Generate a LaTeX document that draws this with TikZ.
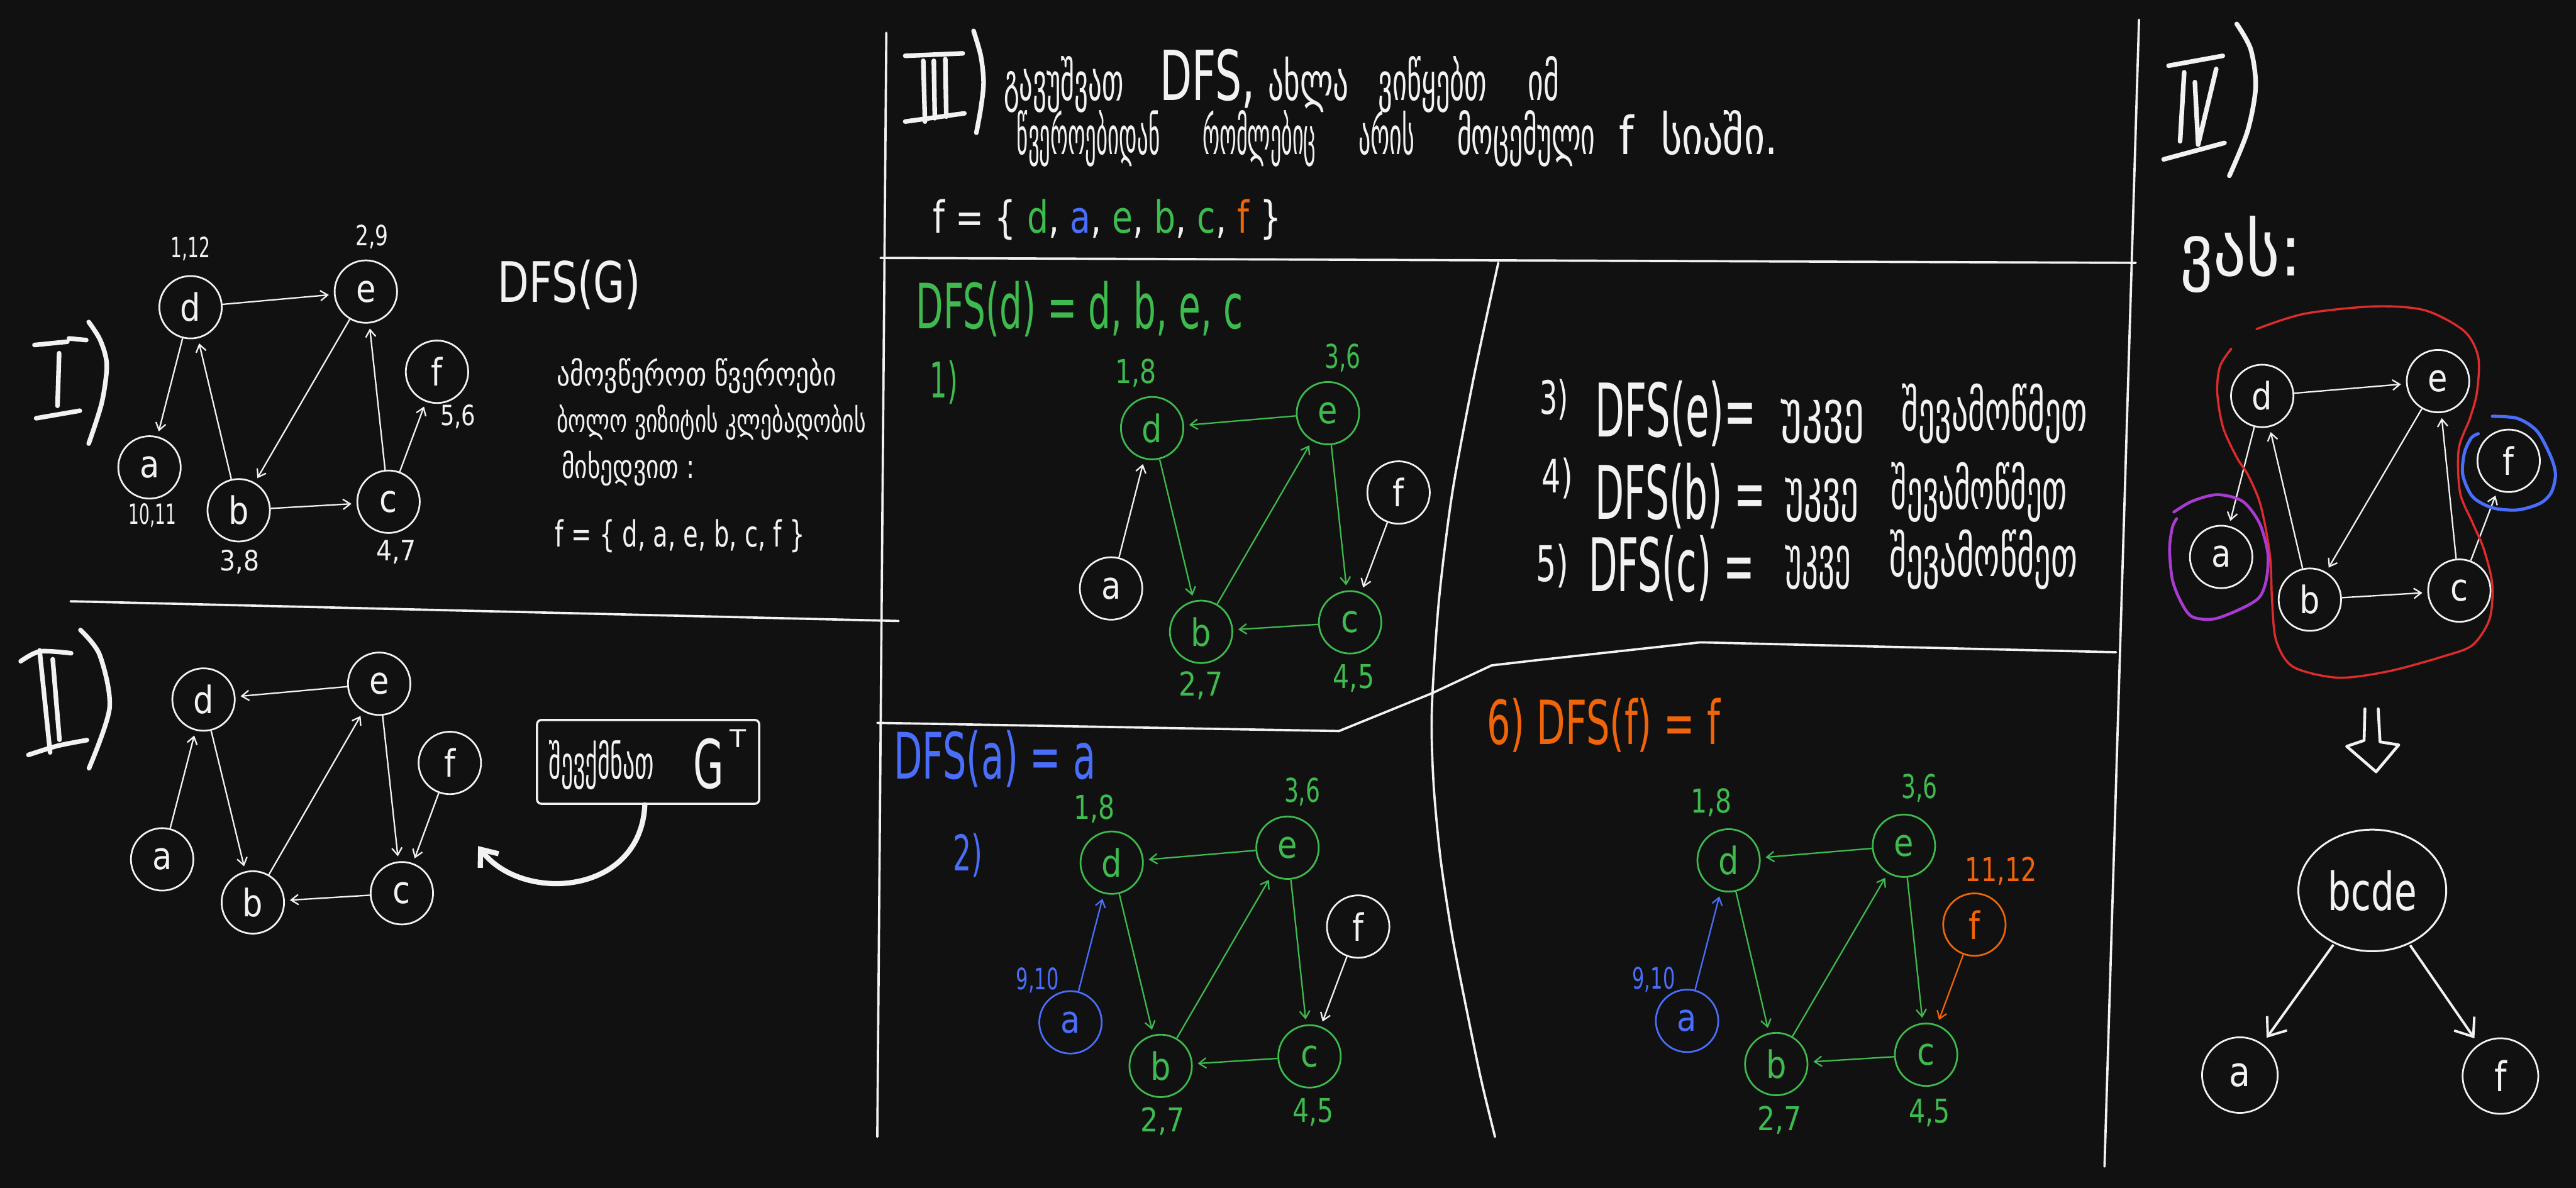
\documentclass[tikz,border=0pt]{standalone}
\usepackage{fontspec}
\setmainfont{DejaVu Sans}
\usetikzlibrary{arrows.meta,shapes.geometric}
\definecolor{bgc}{HTML}{111111}
\definecolor{wh}{HTML}{F2F2F2}
\definecolor{gr}{RGB}{62,186,78}
\definecolor{bl}{RGB}{74,110,250}
\definecolor{orng}{RGB}{240,100,10}
\definecolor{rd}{RGB}{222,44,44}
\definecolor{pu}{RGB}{168,60,208}
\newlength\hwlen
\newcommand\fs[1]{\fontsize{\fpeval{#1*1.138}pt}{\fpeval{#1*1.4}pt}\selectfont}
\newcommand\fitw[2]{\settowidth{\hwlen}{#2}\scalebox{\fpeval{#1*1.138/\hwlen}}[1]{#2}}
\newcommand\nl[1]{\scalebox{0.85}[1]{#1}}
% color, name, position, em(px), width(px), text  -- anchored base west
\newcommand\T[6]{\node[txt,text=#1] (#2) at (#3) {\fs{#4}\fitw{#5}{#6}};}
% centered label
\newcommand\Lb[6]{\node[txt,anchor=center,text=#1] (#2) at (#3) {\fs{#4}\fitw{#5}{#6}};}
\tikzset{
  txt/.style={inner sep=0pt, outer sep=0pt, anchor=base west},
  vx/.style={circle, draw, line width=1.2pt, minimum size=38*1.138pt, inner sep=0pt, font=\fs{23}},
  vw/.style={vx, draw=wh, text=wh},
  vg/.style={vx, draw=gr, text=gr},
  vb/.style={vx, draw=bl, text=bl},
  vo/.style={vx, draw=orng, text=orng},
  ed/.style={-{Straight Barb[length=5pt,width=7pt]}, line width=1pt, shorten >=3.5pt},
  thk/.style={-{Straight Barb[length=11pt,width=17pt]}, line width=1.7pt, shorten >=5pt, shorten <=1pt, wh},
  dline/.style={wh, line width=1.6pt, line cap=round},
  num/.style={wh, line width=3.2pt, line cap=round, line join=round},
}
\begin{document}
\begin{tikzpicture}[x=0.04cm,y=-0.04cm]
\fill[bgc] (0,0) rectangle (1568,723);
\useasboundingbox (0,0) rectangle (1568,723);

% ---------- dividers ----------
\draw[dline] (539.5,20) -- (534,692);
\draw[dline] (1302,12) -- (1281,710);
\draw[dline] (43,366) -- (547,378);
\draw[dline] (536,157) -- (1300,160);
\draw[dline] plot[smooth] coordinates {(912,160) (897,230) (884,300) (876,364) (872,421) (871.5,450) (873,483) (877,524) (884,570) (893,616) (901.5,657) (910,692)};
\draw[dline] (534,440) -- (815,445) -- (871.6,422) -- (908,405) -- (936,401.8) -- (1035,391) -- (1288,397);

% ---------- roman numerals ----------
\draw[num] (21,210) -- (41,208);
\draw[num] (42,206) -- (52.5,207);
\draw[num] (36,215) -- (35,247);
\draw[num] (22,254.6) -- (48.6,250);
\draw[num] plot[smooth] coordinates {(54,196) (61,207) (65,222) (62,245) (54,270)};

\draw[num] plot[smooth] coordinates {(12.6,402.5) (24.3,396.5) (43.3,397.6)};
\draw[num] (24.1,395.9) -- (30.5,458);
\draw[num] (32.1,401.3) -- (36.2,450.3);
\draw[num] plot[smooth] coordinates {(17.3,459.5) (35,454) (52.9,450.5)};
\draw[num] plot[smooth] coordinates {(49,383.5) (60.7,398.7) (66.7,430.8) (54.2,467.6)};

\draw[num] (551,34) -- (586,32.5);
\draw[num] (562,37) -- (563,74);
\draw[num] (568.4,37) -- (569,72);
\draw[num] (575.4,36) -- (576,71);
\draw[num] (551,74) -- (587,69);
\draw[num] plot[smooth] coordinates {(592.6,18.8) (597,34) (598.7,50.2) (597,66) (594.3,80.8)};

\draw[num] (1320,40) -- (1353,34);
\draw[num] (1329.5,44) -- (1327,86);
\draw[num] (1336,50) -- (1338,88) -- (1349,42);
\draw[num] (1317,97) -- (1354,87);
\draw[num] plot[smooth] coordinates {(1361.5,14.6) (1370,30) (1373,53) (1368,80) (1357,107)};

% ---------- Section I ----------
\node[vw] (Id) at (116,187) {\nl{d}};
\node[vw] (Ie) at (222.7,177.5) {\nl{e}};
\node[vw] (If) at (266,226.3) {\nl{f}};
\node[vw] (Ia) at (91,284.5) {\nl{a}};
\node[vw] (Ib) at (145.3,310.6) {\nl{b}};
\node[vw] (Ic) at (236.5,305.4) {\nl{c}};
\draw[ed,wh] (Id) -- (Ie);
\draw[ed,wh] (Id) -- (Ia);
\draw[ed,wh] (Ib) -- (Id);
\draw[ed,wh] (Ie) -- (Ib);
\draw[ed,wh] (Ib) -- (Ic);
\draw[ed,wh] (Ic) -- (Ie);
\draw[ed,wh] (Ic) -- (If);
\Lb{wh}{l1}{116,151.6}{17}{24}{1,12}
\Lb{wh}{l2}{226.5,144.2}{17}{20}{2,9}
\Lb{wh}{l3}{278.8,253.6}{17}{21.5}{5,6}
\Lb{wh}{l4}{92.9,313.6}{17}{29}{10,11}
\Lb{wh}{l5}{145.9,341.9}{17}{24}{3,8}
\Lb{wh}{l6}{241.2,336}{17}{24}{4,7}
\T{wh}{t1}{303,184}{34}{87}{DFS(G)}
\T{wh}{t2}{339,235}{20}{170}{ამოვწეროთ წვეროები}
\T{wh}{t3}{339,263}{20}{188}{ბოლო ვიზიტის კლებადობის}
\T{wh}{t4}{342,291}{20}{81}{მიხედვით :}
\T{wh}{t5}{338,333}{22}{152}{f = \{ d, a, e, b, c, f \}}

% ---------- Section II ----------
\node[vw] (IId) at (123.9,425.8) {\nl{d}};
\node[vw] (IIe) at (230.8,416.2) {\nl{e}};
\node[vw] (IIf) at (273.8,464.4) {\nl{f}};
\node[vw] (IIa) at (98.7,523.1) {\nl{a}};
\node[vw] (IIb) at (153.9,549.3) {\nl{b}};
\node[vw] (IIc) at (244.6,543.7) {\nl{c}};
\draw[ed,wh] (IIe) -- (IId);
\draw[ed,wh] (IIa) -- (IId);
\draw[ed,wh] (IId) -- (IIb);
\draw[ed,wh] (IIb) -- (IIe);
\draw[ed,wh] (IIc) -- (IIb);
\draw[ed,wh] (IIe) -- (IIc);
\draw[ed,wh] (IIf) -- (IIc);
\node[draw=wh, line width=1.5pt, rounded corners=3pt, minimum width=135.2*1.138pt, minimum height=51*1.138pt, inner sep=0pt] (box) at (394.5,463.75) {};
\T{wh}{t6}{334,474}{28}{64}{შევქმნათ}
\T{wh}{t7}{422,480}{41}{18.6}{G}
\T{wh}{t8}{444.4,455}{15}{10}{T}
\coordinate (arrend) at (291,515);
\draw[wh, line width=3.6pt, line cap=round, -{Straight Barb[length=10pt,width=16pt]}] ([xshift=-2*1.138pt]box.south) .. controls (390,545) and (318,550) .. (arrend);

% ---------- Section III header ----------
\T{wh}{t9}{611,61}{32}{73}{გავუშვათ}
\T{wh}{t10}{706,61}{42}{58}{DFS,}
\T{wh}{t11}{772,61}{32}{49}{ახლა}
\T{wh}{t12}{839,61}{32}{66}{ვიწყებთ}
\T{wh}{t13}{930,61}{32}{19}{იმ}
\T{wh}{t14}{619,94}{32}{87}{წვეროებიდან}
\T{wh}{t15}{732,94}{32}{69}{რომლებიც}
\T{wh}{t16}{827,94}{32}{34}{არის}
\T{wh}{t17}{887,94}{32}{84}{მოცემული}
\T{wh}{t18}{985.5,94}{32}{9}{f}
\T{wh}{t19}{1011,94}{32}{71}{სიაში.}
\T{wh}{t20}{568,142}{27}{212}{f = \{ {\color{gr}d}, {\color{bl}a}, {\color{gr}e}, {\color{gr}b}, {\color{gr}c}, {\color{orng}f} \}}

% ---------- III.1 ----------
\T{gr}{t21}{557.6,200}{38}{199}{DFS(d) = d, b, e, c}
\T{gr}{t22}{566,242}{30}{17}{1)}
\node[vg] (Ad) at (701.3,260.6) {\nl{d}};
\node[vg] (Ae) at (808.3,251.5) {\nl{e}};
\node[vw] (Af) at (851.3,299.8) {\nl{f}};
\node[vw] (Aa) at (676.3,358.2) {\nl{a}};
\node[vg] (Ab) at (731.1,384.6) {\nl{b}};
\node[vg] (Ac) at (821.8,378.8) {\nl{c}};
\draw[ed,gr] (Ae) -- (Ad);
\draw[ed,gr] (Ad) -- (Ab);
\draw[ed,gr] (Ab) -- (Ae);
\draw[ed,gr] (Ae) -- (Ac);
\draw[ed,gr] (Ac) -- (Ab);
\draw[ed,wh] (Aa) -- (Ad);
\draw[ed,wh] (Af) -- (Ac);
\Lb{gr}{l7}{691.5,226.9}{20}{25}{1,8}
\Lb{gr}{l8}{817.3,217.7}{20}{22}{3,6}
\Lb{gr}{l9}{731.1,417.5}{20}{27}{2,7}
\Lb{gr}{l10}{824,412.9}{20}{25}{4,5}

% ---------- III.3-5 ----------
\T{wh}{t23}{937.4,252}{28}{17.4}{3)}
\T{wh}{t24}{971,266}{45}{98}{DFS(e)=}
\T{wh}{t25}{1084,262}{34}{51}{უკვე}
\T{wh}{t26}{1157.5,262}{34}{113}{შევამოწმეთ}
\T{wh}{t27}{938.6,300}{28}{18.7}{4)}
\T{wh}{t28}{971,316}{45}{104}{DFS(b) =}
\T{wh}{t29}{1086.6,310}{34}{45}{უკვე}
\T{wh}{t30}{1151,310}{34}{107}{შევამოწმეთ}
\T{wh}{t31}{935,354}{30}{20}{5)}
\T{wh}{t32}{967,360}{45}{101}{DFS(c) =}
\T{wh}{t33}{1086.6,351}{34}{40}{უკვე}
\T{wh}{t34}{1150,351}{34}{114.5}{შევამოწმეთ}

% ---------- III.2 ----------
\T{bl}{t35}{544,474}{39}{123}{DFS(a) = a}
\T{bl}{t36}{580,530}{30}{18}{2)}
\node[vg] (Bd) at (676.7,525.1) {\nl{d}};
\node[vg] (Be) at (783.7,516) {\nl{e}};
\node[vw] (Bf) at (826.7,564) {\nl{f}};
\node[vb] (Ba) at (651.6,622.3) {\nl{a}};
\node[vg] (Bb) at (706.5,648.8) {\nl{b}};
\node[vg] (Bc) at (797.1,643) {\nl{c}};
\draw[ed,gr] (Be) -- (Bd);
\draw[ed,gr] (Bd) -- (Bb);
\draw[ed,gr] (Bb) -- (Be);
\draw[ed,gr] (Be) -- (Bc);
\draw[ed,gr] (Bc) -- (Bb);
\draw[ed,bl] (Ba) -- (Bd);
\draw[ed,wh] (Bf) -- (Bc);
\Lb{gr}{l11}{666.2,492.5}{20}{25}{1,8}
\Lb{gr}{l12}{792.7,481.9}{20}{22}{3,6}
\Lb{bl}{l13}{631.5,596.8}{18}{26}{9,10}
\Lb{gr}{l14}{707.6,682.5}{20}{27}{2,7}
\Lb{gr}{l15}{799.4,677}{20}{25}{4,5}

% ---------- III.6 ----------
\T{orng}{t37}{905,453}{37}{142}{6) DFS(f) = f}
\node[vg] (Cd) at (1052.2,523.7) {\nl{d}};
\node[vg] (Ce) at (1158.9,514.8) {\nl{e}};
\node[vo] (Cf) at (1201.8,562.8) {\nl{f}};
\node[vb] (Ca) at (1026.9,621.4) {\nl{a}};
\node[vg] (Cb) at (1081.2,647.7) {\nl{b}};
\node[vg] (Cc) at (1172.4,642) {\nl{c}};
\draw[ed,gr] (Ce) -- (Cd);
\draw[ed,gr] (Cd) -- (Cb);
\draw[ed,gr] (Cb) -- (Ce);
\draw[ed,gr] (Ce) -- (Cc);
\draw[ed,gr] (Cc) -- (Cb);
\draw[ed,bl] (Ca) -- (Cd);
\draw[ed,orng] (Cf) -- (Cc);
\Lb{gr}{l16}{1041.8,488.5}{20}{25}{1,8}
\Lb{gr}{l17}{1168.3,479.9}{20}{22}{3,6}
\Lb{orng}{l18}{1218,530.4}{20}{43.5}{11,12}
\Lb{bl}{l19}{1006.6,596.2}{18}{26}{9,10}
\Lb{gr}{l20}{1083.3,682}{20}{27}{2,7}
\Lb{gr}{l21}{1174.5,677.3}{20}{25}{4,5}

% ---------- Section IV ----------
\T{wh}{t38}{1327,168}{44}{74}{ვას:}
\node[vw] (Dd) at (1377,241) {\nl{d}};
\node[vw] (De) at (1484,232) {\nl{e}};
\node[vw] (Df) at (1527,280.5) {\nl{f}};
\node[vw] (Da) at (1352,339) {\nl{a}};
\node[vw] (Db) at (1406,365) {\nl{b}};
\node[vw] (Dc) at (1497,359.5) {\nl{c}};
\draw[ed,wh] (Dd) -- (De);
\draw[ed,wh] (Dd) -- (Da);
\draw[ed,wh] (Db) -- (Dd);
\draw[ed,wh] (De) -- (Db);
\draw[ed,wh] (Db) -- (Dc);
\draw[ed,wh] (Dc) -- (De);
\draw[ed,wh] (Dc) -- (Df);
\draw[rd, line width=1.5pt, line cap=round] plot[smooth] coordinates {(1373.5,200.3) (1402.6,191) (1445.3,186.5) (1476.1,188.9) (1500,201.6) (1508.5,217.5) (1507.7,238.8) (1503.4,254.7) (1496.6,273.3) (1497.4,299.8) (1505.1,318.4) (1511.9,334.3) (1517,355.5) (1515.4,376.7) (1505.1,392.6) (1488,399.3) (1453.9,408.6) (1423.1,412.5) (1395.8,405.9) (1385.5,390) (1383,366.1) (1382.1,342.2) (1379.5,323.7) (1375.3,305.1) (1368.4,289.2) (1361.6,278.6) (1353.1,260) (1349.6,238.8) (1351.3,222.9) (1358.2,212.2)};
\draw[pu, line width=2pt, line cap=round] plot[smooth] coordinates {(1323.2,311.7) (1334.3,305.1) (1349.6,301.1) (1365,305.1) (1375.3,318.4) (1380.4,336.9) (1379.5,352.8) (1375.3,363.5) (1365,370.1) (1347.9,376.7) (1334.3,375.4) (1327.4,366.1) (1322.3,352.8) (1320.6,334.3) (1322.3,321) (1324.9,315.7)};
\draw[bl, line width=2.2pt, line cap=round] plot[smooth] coordinates {(1517.1,253.4) (1532.4,254.7) (1544.4,262.6) (1552.9,278.6) (1555.5,289.2) (1552.9,299.8) (1546.1,306.4) (1532.4,310.4) (1517.1,309.1) (1505.1,302.4) (1499.1,289.2) (1500,275.9) (1504.2,266.6) (1508.5,264)};
\draw[wh, line width=2pt, line cap=round, line join=round] (1439.5,431.5) -- (1439,450.7) -- (1428.4,454.3) -- (1446.3,469.8) -- (1460.1,453.4) -- (1448.7,451.6) -- (1447.6,431.5);
\node[ellipse, draw=wh, text=wh, line width=1.3pt, minimum width=90*1.138pt, minimum height=74*1.138pt, inner sep=0pt] (bc) at (1444,542) {\fs{32}\fitw{54}{bcde}};
\node[vw, minimum size=46*1.138pt, font=\fs{25}] (Ea) at (1363.4,654.4) {\nl{a}};
\node[vw, minimum size=46*1.138pt, font=\fs{25}] (Ef) at (1522,655) {\nl{f}};
\draw[thk] (bc) -- (Ea);
\draw[thk] (bc) -- (Ef);
\end{tikzpicture}
\end{document}
